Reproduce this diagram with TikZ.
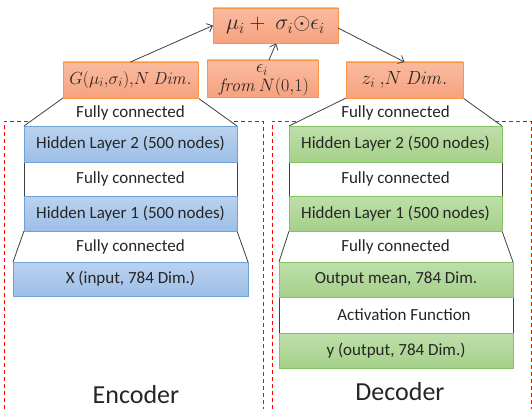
\RequirePackage{fix-cm}
\documentclass[tikz,border=0pt]{standalone}
\usepackage[no-math]{fontspec}
\setmainfont{Carlito}
\usetikzlibrary{arrows.meta}
\definecolor{orfillA}{HTML}{FABBA0}
\definecolor{orfillB}{HTML}{F6A27F}
\definecolor{ordraw}{HTML}{F79646}
\definecolor{blfillA}{HTML}{BAD2EF}
\definecolor{blfillB}{HTML}{9DBFE6}
\definecolor{bldraw}{HTML}{6FA0DA}
\definecolor{grfillA}{HTML}{BEDFAA}
\definecolor{grfillB}{HTML}{A5D08A}
\definecolor{grdraw}{HTML}{85C262}
\definecolor{txt}{HTML}{262626}
\definecolor{lin}{HTML}{404040}
\pgfdeclarelayer{background}
\pgfsetlayers{background,main}
\begin{document}
\begin{tikzpicture}[x=1pt,y=-1pt,
  base/.style={inner sep=0pt, outer sep=0pt, text=txt, font=\fontsize{17}{20}\selectfont, line width=0.8pt},
  orbox/.style={base, draw=ordraw, top color=orfillA, bottom color=orfillB},
  blbox/.style={base, draw=bldraw, top color=blfillA, bottom color=blfillB},
  grbox/.style={base, draw=grdraw, top color=grfillA, bottom color=grfillB},
  lbl/.style={base},
  big/.style={text=txt, font=\fontsize{26}{30}\selectfont},
  side/.style={draw=lin, line width=0.8pt},
  reddash/.style={draw=red, line width=0.8pt, dash pattern=on 4pt off 3pt},
  arr/.style={draw=lin, line width=0.8pt, -{Straight Barb[length=5pt,width=9pt]}}]
\useasboundingbox (0,0) rectangle (532,409);

% top row
\node[orbox, minimum width=125pt, minimum height=35pt] (mu) at (275.5,25.5)
  {\fontsize{22}{24}\selectfont $\mu_i+\ \sigma_i{\odot}\epsilon_i$};
\node[orbox, minimum width=111pt, minimum height=37pt] (eps) at (262.5,78.5) {};
\node[base, font=\fontsize{18}{19}\selectfont] (epsA) at (262,70) {$\epsilon_i$};
\node[base, font=\fontsize{18}{19}\selectfont] (epsB) at (264,87) {$\mathit{from}\,N(0{,}1)$};
\node[orbox, minimum width=135pt, minimum height=36pt] (G) at (130.5,80)
  {\fontsize{17.5}{19}\selectfont $G(\mu_i{,}\sigma_i){,}N\ \mathit{Dim.}$};
\node[orbox, minimum width=117pt, minimum height=36pt] (z) at (404.5,80)
  {\fontsize{19}{20}\selectfont $z_i\ {,}N\ \mathit{Dim.}$};

% encoder
\node[blbox, minimum width=213pt, minimum height=36pt] (eh2) at (130.5,144) {Hidden Layer 2 (500 nodes)};
\node[blbox, minimum width=213pt, minimum height=35pt] (eh1) at (130.5,213.5) {Hidden Layer 1 (500 nodes)};
\node[blbox, minimum width=235pt, minimum height=34pt] (ex) at (130.5,279) {X (input, 784 Dim.)};

% decoder
\node[grbox, minimum width=213pt, minimum height=36pt] (dh2) at (395.5,144) {Hidden Layer 2 (500 nodes)};
\node[grbox, minimum width=213pt, minimum height=35pt] (dh1) at (395.5,213.5) {Hidden Layer 1 (500 nodes)};
\node[grbox, minimum width=234pt, minimum height=35pt] (dom) at (396,279.5) {Output mean, 784 Dim.};
\node[grbox, minimum width=234pt, minimum height=35pt] (dy) at (396,350.5) {y (output, 784 Dim.)};

% background: red dashed frames and white trapezoids
\begin{pgfonlayer}{background}
  \draw[reddash] (4,409) -- (4,121) -- (263,121) -- (263,409);
  \draw[reddash] (272,409) -- (272,121) -- (531,121) -- (531,409);
  \fill[white] (G.south west) -- (G.south east) -- (eh2.north east) -- (eh2.north west) -- cycle;
  \fill[white] (z.south west) -- (z.south east) -- (dh2.north east) -- (dh2.north west) -- cycle;
  \fill[white] (eh1.south west) -- (eh1.south east) -- (ex.north east) -- (ex.north west) -- cycle;
  \fill[white] (dh1.south west) -- (dh1.south east) -- (dom.north east) -- (dom.north west) -- cycle;
  \draw[side] (G.south west) -- (eh2.north west);
  \draw[side] (G.south east) -- (eh2.north east);
  \draw[side] (z.south west) -- (dh2.north west);
  \draw[side] (z.south east) -- (dh2.north east);
  \draw[side] (eh2.south west) -- (eh1.north west);
  \draw[side] (eh2.south east) -- (eh1.north east);
  \draw[side] (dh2.south west) -- (dh1.north west);
  \draw[side] (dh2.south east) -- (dh1.north east);
  \draw[side] (eh1.south west) -- (ex.north west);
  \draw[side] (eh1.south east) -- (ex.north east);
  \draw[side] (dh1.south west) -- (dom.north west);
  \draw[side] (dh1.south east) -- (dom.north east);
  \draw[side] (dom.south west) -- (dy.north west);
  \draw[side] (dom.south east) -- (dy.north east);
\end{pgfonlayer}

% labels
\node[lbl] (fc1) at (130.5,113) {Fully connected};
\node[lbl] (fc2) at (130.5,179) {Fully connected};
\node[lbl] (fc3) at (130.5,246.5) {Fully connected};
\node[lbl] (fc4) at (395.5,113) {Fully connected};
\node[lbl] (fc5) at (395.5,179) {Fully connected};
\node[lbl] (fc6) at (395.5,246.5) {Fully connected};
\node[lbl] (act) at (404,315) {Activation Function};
\node[big] (enc) at (136,395) {Encoder};
\node[big] (dec) at (400,392) {Decoder};

% arrows
\coordinate (ea) at (269,60);
\coordinate (eb) at (276,43.5);
\draw[arr] (G.north) -- (mu.west);
\draw[arr] (ea) -- (eb);
\draw[arr] ([yshift=-2.5pt]mu.east) -- (z.north);
\end{tikzpicture}
\end{document}
